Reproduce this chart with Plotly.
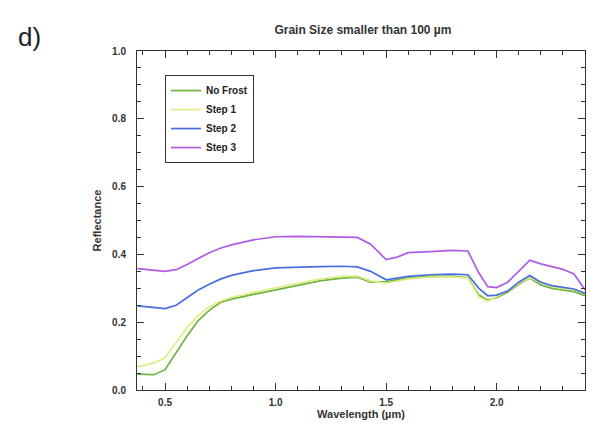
import plotly.graph_objects as go

wavelength = [0.375, 0.45, 0.50, 0.55, 0.60, 0.65, 0.70, 0.75, 0.80, 0.90,
              1.00, 1.10, 1.20, 1.30, 1.37, 1.43, 1.50, 1.55, 1.60, 1.70,
              1.80, 1.87, 1.92, 1.96, 2.00, 2.05, 2.10, 2.15, 2.20, 2.25,
              2.30, 2.35, 2.40]

no_frost = [0.047, 0.045, 0.060, 0.110, 0.160, 0.205, 0.235, 0.258, 0.268, 0.282,
            0.295, 0.310, 0.322, 0.330, 0.333, 0.318, 0.320, 0.325, 0.330, 0.335,
            0.335, 0.332, 0.280, 0.265, 0.272, 0.288, 0.312, 0.330, 0.310, 0.300,
            0.295, 0.290, 0.278]

step_1 = [0.068, 0.080, 0.095, 0.140, 0.185, 0.220, 0.245, 0.262, 0.273, 0.288,
          0.302, 0.315, 0.327, 0.335, 0.336, 0.322, 0.315, 0.322, 0.328, 0.333,
          0.334, 0.330, 0.275, 0.262, 0.275, 0.292, 0.315, 0.332, 0.318, 0.305,
          0.300, 0.296, 0.285]

step_2 = [0.248, 0.242, 0.240, 0.250, 0.272, 0.295, 0.312, 0.327, 0.338, 0.352,
          0.360, 0.363, 0.364, 0.365, 0.363, 0.350, 0.325, 0.330, 0.335, 0.340,
          0.342, 0.340, 0.300, 0.278, 0.280, 0.292, 0.318, 0.338, 0.318, 0.308,
          0.303, 0.298, 0.285]

step_3 = [0.358, 0.352, 0.350, 0.355, 0.370, 0.388, 0.405, 0.418, 0.428, 0.443,
          0.452, 0.453, 0.452, 0.452, 0.450, 0.430, 0.385, 0.392, 0.405, 0.408,
          0.412, 0.410, 0.345, 0.305, 0.302, 0.318, 0.350, 0.383, 0.372, 0.365,
          0.356, 0.342, 0.296]

series = [
    ("No Frost", no_frost, "#6fb23c"),
    ("Step 1", step_1, "#dcee84"),
    ("Step 2", step_2, "#4a6ee0"),
    ("Step 3", step_3, "#b05ae6"),
]

font = "Liberation Sans, Arial, sans-serif"
txt = "#333"

fig = go.Figure()
for name, vals, color in series:
    fig.add_trace(go.Scatter(x=wavelength, y=vals, name=name, mode="lines",
                             line=dict(color=color, width=1.7)))

axis_style = dict(showline=True, linecolor="#333", linewidth=1, mirror="allticks",
                  ticks="inside", ticklen=7, tickwidth=1, tickcolor="#333", showgrid=False,
                  zeroline=False, tickfont=dict(size=10, color=txt, family=font, weight="bold"))

fig.update_xaxes(range=[0.373, 2.4], tickvals=[0.5, 1.0, 1.5, 2.0],
                 ticktext=["0.5", "1.0", "1.5", "2.0"],
                 minor=dict(tickvals=[0.4, 0.6, 0.7, 0.8, 0.9, 1.1, 1.2, 1.3, 1.4,
                                      1.6, 1.7, 1.8, 1.9, 2.1, 2.2, 2.3],
                            ticks="inside", ticklen=4, tickcolor="#333"),
                 ticklabelstandoff=3,
                 title=dict(text="Wavelength (µm)",
                            font=dict(size=11, color=txt, family=font, weight="bold"),
                            standoff=0),
                 **axis_style)
fig.update_yaxes(range=[0, 1.0], tickvals=[0, 0.2, 0.4, 0.6, 0.8, 1.0],
                 ticktext=["0.0", "0.2", "0.4", "0.6", "0.8", "1.0"],
                 minor=dict(dtick=0.05, ticks="inside", ticklen=4, tickcolor="#333"),
                 ticklabelstandoff=8,
                 title=dict(text="Reflectance",
                            font=dict(size=11, color=txt, family=font, weight="bold"),
                            standoff=8),
                 **axis_style)

fig.update_layout(
    width=594, height=429,
    margin=dict(l=137, r=9, t=51, b=39),
    plot_bgcolor="white", paper_bgcolor="white",
    title=dict(text="Grain Size smaller than 100 µm", x=0.611, xanchor="center",
               y=0.93, yanchor="middle",
               font=dict(size=12, color=txt, family=font, weight="bold")),
    legend=dict(x=0.0625, y=0.929, xanchor="left", yanchor="top",
                bordercolor="#333", borderwidth=1, bgcolor="white", itemwidth=30,
                font=dict(size=10, color="#222", family=font, weight="bold")),
)
fig.add_annotation(text="d)", xref="paper", yref="paper", x=-0.239, y=1.041,
                   xanchor="center", yanchor="middle", showarrow=False,
                   font=dict(size=26, color="#222", family=font))

fig.write_html("out.html", config={"displayModeBar": False},
               post_script="document.body.style.margin='0px';")
